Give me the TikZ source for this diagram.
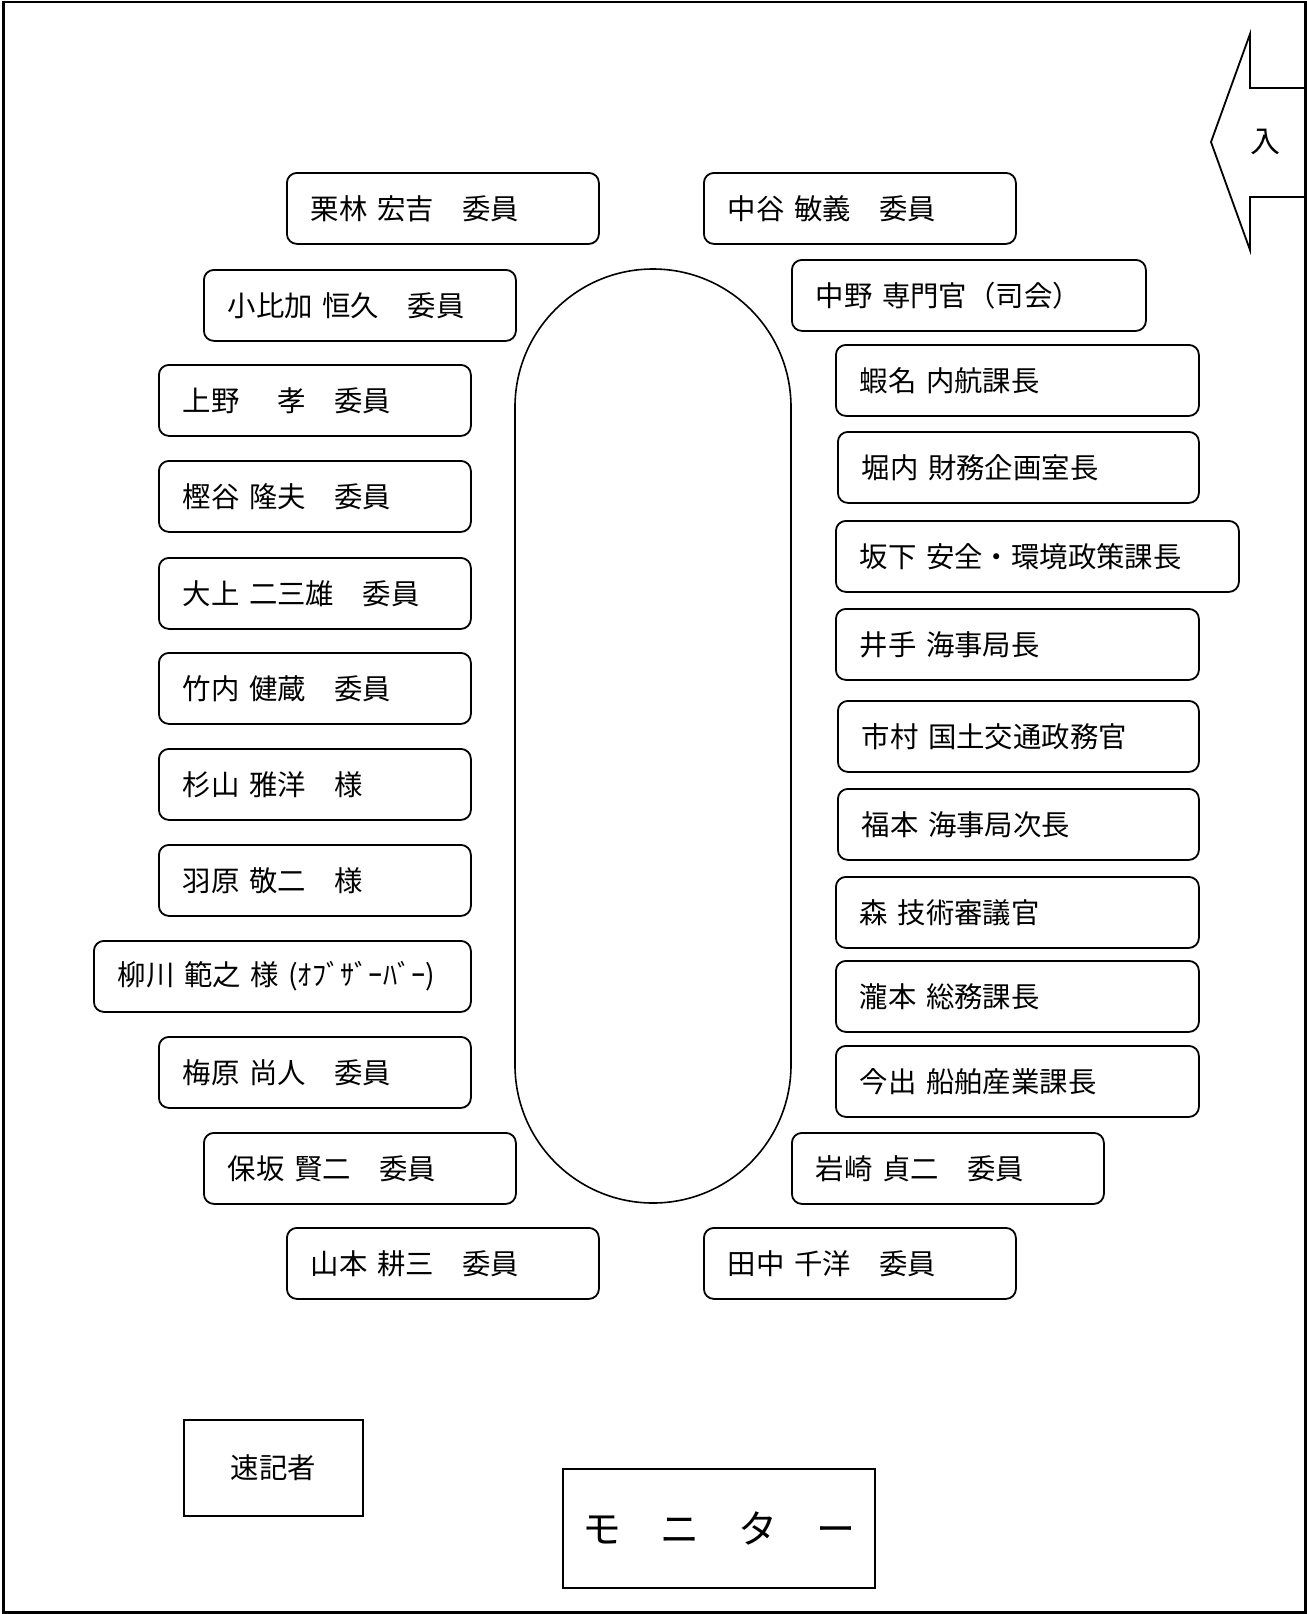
\documentclass[tikz,border=0pt]{standalone}
\usepackage{fontspec}
\setmainfont{Noto Sans CJK JP}[WordSpace=2.2]
\usetikzlibrary{positioning}

\begin{document}
\begin{tikzpicture}[x=0.5pt, y=-0.5pt,
    seat/.style={draw, rounded corners=5pt, line width=0.9pt, anchor=north west, minimum height=35.5pt, inner xsep=12pt, inner ysep=0pt, text width=#1, align=left, font=\fontsize{14.2}{16}\selectfont},
    seat/.default=132pt,
    plainbox/.style={draw, line width=0.9pt, inner sep=0pt}]
\useasboundingbox (0,0) rectangle (1307,1614);
    % Room frame
\draw[line width=1.2pt] (3.5,2) rectangle (1305.5,1612.5);

    % Table
\draw[line width=0.8pt, rounded corners=69pt] (515,269) rectangle (791,1203);

    % Left side seats
\node[seat] (kuribayashi) at (286,172) {栗林 宏吉　委員};
\node[seat] (kohika) at (203,269) {小比加 恒久　委員};
\node[seat] (ueno) at (158,364) {上野　 孝　委員};
\node[seat] (kashitani) at (158,460) {樫谷 隆夫　委員};
\node[seat] (ooue) at (158,557) {大上 二三雄　委員};
\node[seat] (takeuchi) at (158,652) {竹内 健蔵　委員};
\node[seat] (sugiyama) at (158,748) {杉山 雅洋　様};
\node[seat] (habara) at (158,844) {羽原 敬二　様};
\node[seat=164.5pt] (yanagawa) at (93,940) {柳川 範之 様 (ｵﾌﾞｻﾞｰﾊﾞｰ)};
\node[seat] (umehara) at (158,1036) {梅原 尚人　委員};
\node[seat] (hosaka) at (203,1132) {保坂 賢二　委員};
\node[seat] (yamamoto) at (286,1227) {山本 耕三　委員};

    % Right side seats
\node[seat] (nakatani) at (703,172) {中谷 敏義　委員};
\node[seat=153pt] (nakano) at (791,259) {中野 専門官（司会）};
\node[seat=157.5pt] (ebina) at (835,344) {蝦名 内航課長};
\node[seat=156.5pt] (horiuchi) at (837,431) {堀内 財務企画室長};
\node[seat=177.5pt] (sakashita) at (835,520) {坂下 安全・環境政策課長};
\node[seat=157.5pt] (ide) at (835,608) {井手 海事局長};
\node[seat=156.5pt] (ichimura) at (837,700) {市村 国土交通政務官};
\node[seat=156.5pt] (fukumoto) at (837,788) {福本 海事局次長};
\node[seat=157.5pt] (mori) at (835,876) {森 技術審議官};
\node[seat=157.5pt] (takimoto) at (835,960) {瀧本 総務課長};
\node[seat=157.5pt] (imade) at (835,1045) {今出 船舶産業課長};
\node[seat] (iwasaki) at (791,1132) {岩崎 貞二　委員};
\node[seat] (tanaka) at (703,1227) {田中 千洋　委員};

    % Stenographer and monitor
\node[plainbox, minimum width=89.5pt, minimum height=48pt, font=\fontsize{14.2}{16}\selectfont] (sokki) at (273.5,1468) {速記者};
\node[plainbox, minimum width=156pt, minimum height=59.5pt, font=\fontsize{19.5}{22}\selectfont] (monitor) at (719,1528.5) {モ　ニ　タ　ー};

    % Entrance
\draw[line width=0.9pt] (1307,88) -- (1250,88) -- (1250,34) -- (1211,142) -- (1250,250) -- (1250,197) -- (1307,197);
\node[font=\fontsize{15}{17}\selectfont] (iri) at (1265,142) {入};
\end{tikzpicture}
\end{document}
